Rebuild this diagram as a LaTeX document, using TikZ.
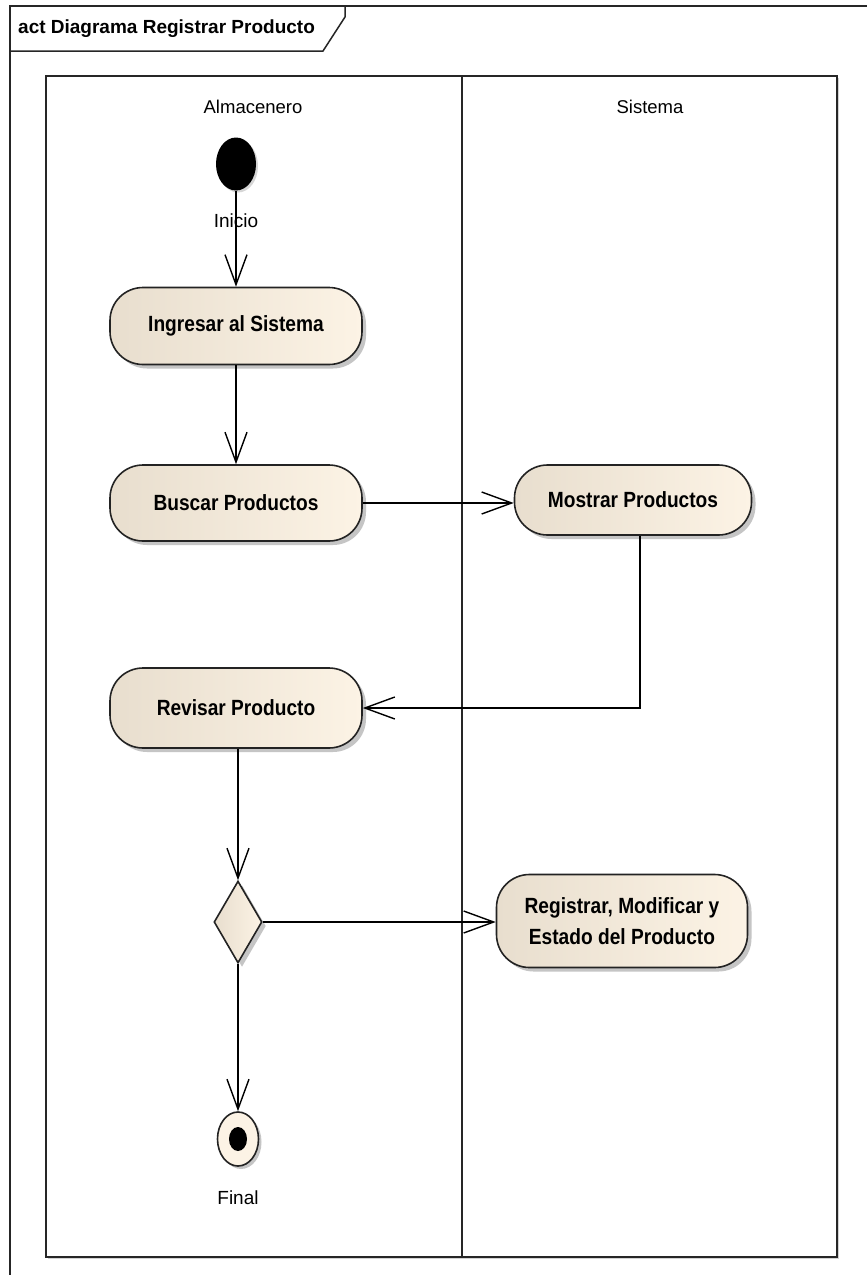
\documentclass[tikz,border=0pt]{standalone}
\usepackage{fontspec}
\setmainfont{Liberation Sans}
\newfontfamily\narrowsans[FakeStretch=0.87]{Liberation Sans}
\usetikzlibrary{arrows.meta,shapes.geometric,shadows}

\definecolor{actfillL}{RGB}{232,222,206}
\definecolor{actfillR}{RGB}{252,243,229}
\definecolor{edgegray}{RGB}{35,35,35}

\tikzset{
  frameline/.style={line width=1.5pt, draw=black!85},
  action/.style={draw=edgegray, line width=1.6pt, rounded corners=33pt,
    left color=actfillL, right color=actfillR,
    minimum width=252pt, minimum height=77pt, inner sep=0pt, align=center,
    font=\narrowsans\bfseries\fontsize{22}{31}\selectfont,
    drop shadow={shadow xshift=4pt, shadow yshift=-4pt, fill=black!45, opacity=0.5}},
  decision/.style={diamond, draw=edgegray, line width=1.6pt,
    left color=actfillL, right color=actfillR,
    minimum width=48pt, minimum height=82pt, inner sep=0pt,
    drop shadow={shadow xshift=4pt, shadow yshift=-4pt, fill=black!45, opacity=0.5}},
  initial/.style={ellipse, fill=black, minimum width=40pt, minimum height=53pt, inner sep=0pt,
    drop shadow={shadow xshift=2pt, shadow yshift=-2pt, fill=black!40, opacity=0.4}},
  finalring/.style={ellipse, draw=edgegray, line width=1.6pt, fill=actfillR,
    minimum width=41pt, minimum height=54pt, inner sep=0pt,
    drop shadow={shadow xshift=3pt, shadow yshift=-3pt, fill=black!45, opacity=0.5}},
  finaldot/.style={ellipse, fill=black, minimum width=18pt, minimum height=24pt, inner sep=0pt},
  lanelabel/.style={font=\fontsize{18.5}{22}\selectfont},
  nodelabel/.style={font=\fontsize{19}{22}\selectfont},
  flow/.style={line width=1.4pt, draw=black,
    -{Straight Barb[length=30pt,width=22pt,line width=1.4pt]}},
}

\begin{document}
\begin{tikzpicture}[x=1pt,y=-1pt]
  \useasboundingbox (0,0) rectangle (867,1275);
  \clip (0,0) rectangle (867,1275);
  \fill[white] (0,0) rectangle (867,1275);

  % activity frame with its name tab
  \draw[frameline] (10,6) rectangle (900,1300);
  \draw[frameline] (10,51) -- (323,51) -- (345,17) -- (345,6);
  \node[anchor=west, font=\bfseries\fontsize{19}{22}\selectfont, inner sep=0pt] (title)
    at (18,29) {act Diagrama Registrar Producto};

  % swimlanes
  \draw[frameline, fill=white,
    drop shadow={shadow xshift=2pt, shadow yshift=-2pt, fill=black!35, opacity=0.5}]
    (46,76) rectangle (837,1257);
  \draw[frameline] (462,76) -- (462,1257);
  \node[lanelabel] (laneA) at (253,107) {Almacenero};
  \node[lanelabel] (laneB) at (650,107) {Sistema};

  % activity nodes
  \node[initial] (init) at (236,164) {};
  \node[nodelabel] (initlbl) at (236,221) {Inicio};
  \node[action] (ingresar) at (236,326) {Ingresar al Sistema};
  \node[action, minimum height=76pt] (buscar) at (236,503) {Buscar Productos};
  \node[action, minimum width=237pt, minimum height=70pt] (mostrar) at (633,500) {Mostrar Productos};
  \node[action, minimum height=80pt] (revisar) at (236,708) {Revisar Producto};
  \node[decision] (choice) at (238,922) {};
  \node[action, minimum width=251pt, minimum height=93pt] (registrar) at (622,921)
    {Registrar, Modificar y\\ Estado del Producto};
  \node[finalring] (final) at (238,1139) {};
  \node[finaldot] (finaldot) at (238,1139) {};
  \node[nodelabel] (finallbl) at (238,1198) {Final};

  % control flows
  \draw[flow] (init) -- (ingresar);
  \draw[flow] (ingresar) -- (buscar);
  \draw[flow] (buscar.east) -- (buscar.east -| mostrar.west);
  \draw[flow] ([xshift=7pt]mostrar.south) |- (revisar.east);
  \draw[flow] (revisar.south -| choice.north) -- (choice.north);
  \draw[flow] (choice.east) -- (choice.east -| registrar.west);
  \draw[flow] (choice) -- (final);
\end{tikzpicture}
\end{document}
